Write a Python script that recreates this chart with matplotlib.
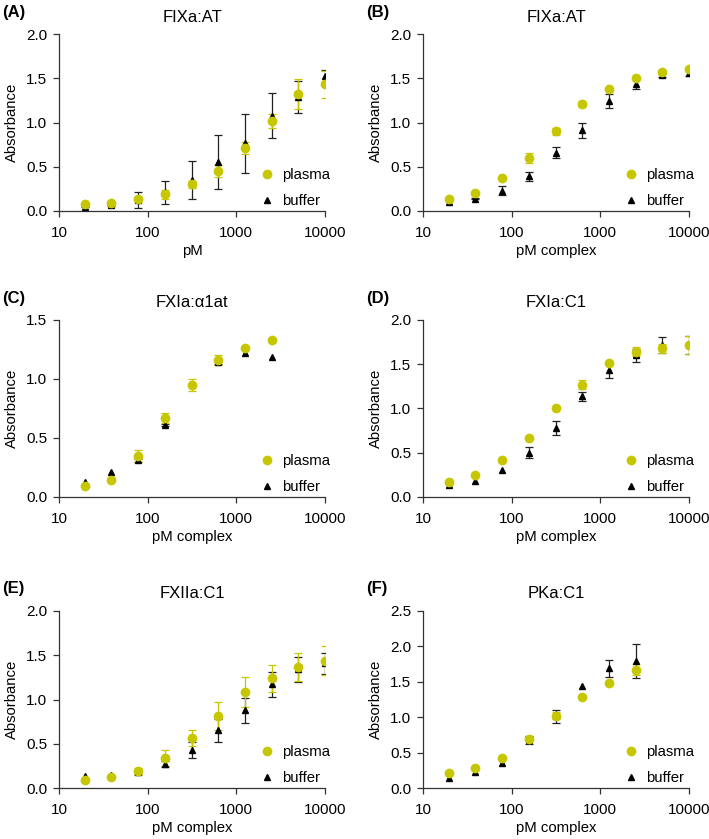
import matplotlib
matplotlib.use("Agg")
import matplotlib.pyplot as plt
from matplotlib.lines import Line2D
from matplotlib.ticker import FixedLocator, FixedFormatter, NullLocator

plt.rcParams["font.family"] = ["Liberation Sans", "DejaVu Sans"]

YELLOW = "#c6c700"
AXIS = "#333333"

conc_full = [19.53, 39.06, 78.13, 156.25, 312.5, 625, 1250, 2500, 5000, 10000]
conc_short = [19.53, 39.06, 78.13, 156.25, 312.5, 625, 1250, 2500]

a_plasma = [0.08, 0.095, 0.13, 0.19, 0.30, 0.45, 0.71, 1.02, 1.32, 1.43]
a_plasma_err = [0, 0, 0.03, 0.05, 0.04, 0.07, 0.07, 0.08, 0.17, 0.15]
a_buffer = [0.05, 0.07, 0.12, 0.21, 0.345, 0.555, 0.765, 1.075, 1.29, 1.52]
a_buffer_err = [0.01, 0.01, 0.09, 0.13, 0.215, 0.305, 0.335, 0.255, 0.18, 0.07]

b_plasma = [0.13, 0.20, 0.37, 0.60, 0.90, 1.21, 1.38, 1.50, 1.57, 1.61]
b_plasma_err = [0, 0, 0, 0.06, 0.04, 0.03, 0, 0, 0.02, 0]
b_buffer = [0.10, 0.14, 0.23, 0.39, 0.66, 0.91, 1.24, 1.44, 1.54, 1.56]
b_buffer_err = [0, 0.01, 0.05, 0.05, 0.06, 0.09, 0.08, 0.06, 0.03, 0.03]

c_plasma = [0.09, 0.14, 0.345, 0.67, 0.95, 1.16, 1.26, 1.33]
c_plasma_err = [0, 0, 0.05, 0.045, 0.05, 0.04, 0, 0]
c_buffer = [0.13, 0.215, 0.31, 0.61, 0.95, 1.14, 1.22, 1.19]
c_buffer_err = [0, 0, 0.01, 0.01, 0, 0.01, 0, 0]

d_plasma = [0.165, 0.25, 0.42, 0.67, 1.005, 1.27, 1.51, 1.64, 1.68, 1.72]
d_plasma_err = [0, 0, 0, 0, 0, 0.05, 0, 0.05, 0.05, 0.1]
d_buffer = [0.13, 0.18, 0.30, 0.50, 0.78, 1.14, 1.43, 1.60, 1.72, 1.72]
d_buffer_err = [0, 0, 0, 0.06, 0.08, 0.05, 0.09, 0.07, 0.09, 0.1]

e_plasma = [0.09, 0.12, 0.19, 0.34, 0.57, 0.81, 1.08, 1.24, 1.37, 1.44]
e_plasma_err = [0, 0, 0.04, 0.09, 0.09, 0.16, 0.17, 0.15, 0.16, 0.16]
e_buffer = [0.14, 0.15, 0.18, 0.27, 0.43, 0.65, 0.88, 1.17, 1.34, 1.41]
e_buffer_err = [0, 0, 0.02, 0.03, 0.09, 0.13, 0.14, 0.14, 0.14, 0.12]

f_plasma = [0.21, 0.28, 0.43, 0.69, 1.02, 1.29, 1.49, 1.67]
f_plasma_err = [0, 0, 0, 0.03, 0.05, 0, 0, 0.08]
f_buffer = [0.14, 0.22, 0.36, 0.68, 1.01, 1.44, 1.69, 1.80]
f_buffer_err = [0, 0, 0, 0.06, 0.09, 0, 0.12, 0.24]

panels = [
    ("(A)", "FIXa:AT", "pM", conc_full, a_plasma, a_plasma_err, a_buffer, a_buffer_err, [0, 0.5, 1.0, 1.5, 2.0]),
    ("(B)", "FIXa:AT", "pM complex", conc_full, b_plasma, b_plasma_err, b_buffer, b_buffer_err, [0, 0.5, 1.0, 1.5, 2.0]),
    ("(C)", "FXIa:\u03b11at", "pM complex", conc_short, c_plasma, c_plasma_err, c_buffer, c_buffer_err, [0, 0.5, 1.0, 1.5]),
    ("(D)", "FXIa:C1", "pM complex", conc_full, d_plasma, d_plasma_err, d_buffer, d_buffer_err, [0, 0.5, 1.0, 1.5, 2.0]),
    ("(E)", "FXIIa:C1", "pM complex", conc_full, e_plasma, e_plasma_err, e_buffer, e_buffer_err, [0, 0.5, 1.0, 1.5, 2.0]),
    ("(F)", "PKa:C1", "pM complex", conc_short, f_plasma, f_plasma_err, f_buffer, f_buffer_err, [0, 0.5, 1.0, 1.5, 2.0, 2.5]),
]

x_ticks = [10, 100, 1000, 10000]
W, H = 709, 839
lefts = [59, 423]
bottoms = [211, 497, 788]
ax_w, ax_h = 266, 177


def draw_errors(ax, x, y, err, color):
    idx = [i for i, e in enumerate(err) if e > 0]
    if not idx:
        return
    ax.errorbar([x[i] for i in idx], [y[i] for i in idx], yerr=[err[i] for i in idx],
                fmt="none", ecolor=color, elinewidth=0.9, capsize=3, capthick=0.9, zorder=2)


def draw_panel(ax, panel):
    tag, title, xlabel, x, plasma, plasma_err, buffer, buffer_err, yticks = panel
    draw_errors(ax, x, buffer, buffer_err, "#222222")
    draw_errors(ax, x, plasma, plasma_err, YELLOW)
    ax.plot(x, buffer, "^", color="black", markersize=5, zorder=3)
    ax.plot(x, plasma, "o", color=YELLOW, markersize=6, zorder=4)

    ax.set_xscale("log")
    ax.set_xlim(10, 10000)
    ax.set_ylim(0, yticks[-1])
    ax.xaxis.set_major_locator(FixedLocator(x_ticks))
    ax.xaxis.set_major_formatter(FixedFormatter([str(t) for t in x_ticks]))
    ax.xaxis.set_minor_locator(NullLocator())
    ax.set_yticks(yticks)
    ax.set_yticklabels(["%.1f" % t for t in yticks])

    for side in ["top", "right"]:
        ax.spines[side].set_visible(False)
    for side in ["left", "bottom"]:
        ax.spines[side].set_color(AXIS)
        ax.spines[side].set_linewidth(0.9)
    ax.tick_params(direction="out", length=4, width=0.9, color=AXIS, labelsize=11)
    ax.tick_params(axis="x", pad=7)
    ax.tick_params(axis="y", pad=4.5)

    ax.set_title(title, fontsize=12, pad=9)
    ax.set_xlabel(xlabel, fontsize=10.7, labelpad=3)
    ax.set_ylabel("Absorbance", fontsize=10.7, labelpad=5)

    handles = [
        Line2D([], [], marker="o", linestyle="none", color=YELLOW, markersize=6),
        Line2D([], [], marker="^", linestyle="none", color="black", markersize=5),
    ]
    ax.legend(handles, ["plasma", "buffer"], loc="lower right", bbox_to_anchor=(1.07, -0.058),
              frameon=False, fontsize=10.7, handlelength=1.0, handletextpad=0.5, labelspacing=0.8)


def main():
    fig = plt.figure(figsize=(W / 100, H / 100), dpi=100)
    for i, panel in enumerate(panels):
        row, col = divmod(i, 2)
        left = lefts[col]
        bottom = bottoms[row]
        ax = fig.add_axes([left / W, 1 - bottom / H, ax_w / W, ax_h / H])
        draw_panel(ax, panel)
        top_px = bottom - ax_h
        fig.text((left - 59 + 2) / W, 1 - (top_px - 22) / H, panel[0],
                 fontsize=12, fontweight="bold", va="center", ha="left")
    fig.savefig("out.png", dpi=100)


if __name__ == "__main__":
    main()
